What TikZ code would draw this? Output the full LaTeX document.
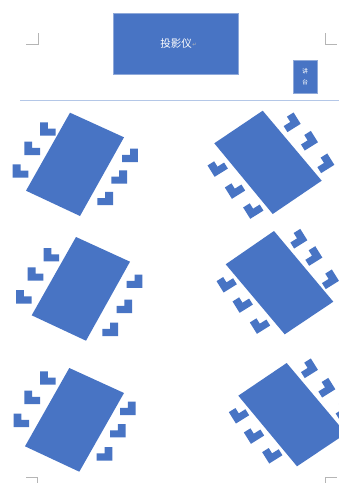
\documentclass[tikz,border=0pt]{standalone}
\usepackage{fontspec}
\newfontfamily\cjk{Noto Sans CJK SC}
\newfontfamily\djv{DejaVu Sans}
\definecolor{tblue}{HTML}{4874C4}
\definecolor{tedge}{HTML}{8FA9D9}
\definecolor{rulecol}{HTML}{B4C7E7}
\definecolor{crop}{HTML}{B5B5B5}
\tikzset{
  x=0.75pt,y=-0.75pt,
  seat/.style={fill=tblue},
  tabletop/.style={fill=tblue},
  cropmark/.style={draw=crop,line width=0.45pt},
  boxnode/.style={fill=tblue,draw=tedge,line width=0.4pt,inner sep=0pt,text=white,font=\cjk,align=center},
  chL/.pic={\path[seat] (-7.8,-6.7)--(0,-6.7)--(0,-0.4)--(7.8,-0.4)--(7.8,6.7)--(-7.8,6.7)--cycle;},
  chR/.pic={\path[seat] (7.8,-6.7)--(0,-6.7)--(0,-0.4)--(-7.8,-0.4)--(-7.8,6.7)--(7.8,6.7)--cycle;}
}
\begin{document}
\begin{tikzpicture}
\path[use as bounding box,fill=white] (0,0) rectangle (339,483);
\clip (0,0) rectangle (339,483);
% crop marks
\draw[cropmark] (26,44)--(38.3,44)--(38.3,33);
\draw[cropmark] (325,33)--(325,44)--(336.7,44);
\draw[cropmark] (26,477.3)--(37.7,477.3)--(37.7,483);
\draw[cropmark] (325,483)--(325,477.3)--(336.7,477.3);
% header rule
\draw[draw=rulecol,line width=0.9pt] (20,100.3)--(339,100.3);
% projector and lectern
\node[boxnode,minimum width=93.75pt,minimum height=45.4pt,font=\cjk\fontsize{7.9}{9}\selectfont] (projector) at (176.2,44) {投影仪};
\node[text=crop,inner sep=0pt,font=\djv\fontsize{4}{4}\selectfont] (mark) at (194.5,44.5) {↵};
\node[boxnode,minimum width=17.8pt,minimum height=24.8pt,font=\cjk\fontsize{4.5}{8.2}\selectfont] (lectern) at (305.2,76.8) {讲\\台};
% tables
\path[tabletop] (70,112.7)--(124,137.3)--(80,216)--(26,190.7)--cycle;
\path[tabletop] (262.7,110.7)--(321.7,180.7)--(272.7,214)--(214.3,143.3)--cycle;
\path[tabletop] (76,237)--(130,261.7)--(86,340.7)--(31.7,315.3)--cycle;
\path[tabletop] (274,231)--(333.3,301.7)--(284.7,334.3)--(225.7,264.3)--cycle;
\path[tabletop] (69.3,368)--(124,393)--(79.3,471.7)--(25,446.3)--cycle;
\path[tabletop] (286.7,363)--(346,433.5)--(297,466.3)--(238.3,395.7)--cycle;
% chairs, left column
\foreach \px/\py in {47.8/129,32.2/148.3,20.5/171,51.3/254.7,35.5/274,23.8/296.8,47.8/378,32.2/397.3,21.3/420.3}
  \pic at (\px,\py) {chL};
\foreach \px/\py in {130/155.3,119.2/177,105.2/198.5,134.5/281.2,124.3/306.3,110.2/329.3,127.8/408.3,117.8/430.7,104.5/453.8}
  \pic at (\px,\py) {chR};
% chairs, right column
\foreach \px/\py in {217.7/167,235/189,253.3/209,226.7/282.7,242.7/303,260/324,239/413.7,254/434,272.3/453.7}
  \pic[rotate=32] at (\px,\py) {chL};
\foreach \px/\py in {290.5/122.3,307.8/140.7,324.2/163.3,297.2/238.7,312.2/256,328.8/279.3,307.8/368.3,325.2/387.7,342.5/409.7}
  \pic[rotate=32] at (\px,\py) {chR};
\end{tikzpicture}
\end{document}
